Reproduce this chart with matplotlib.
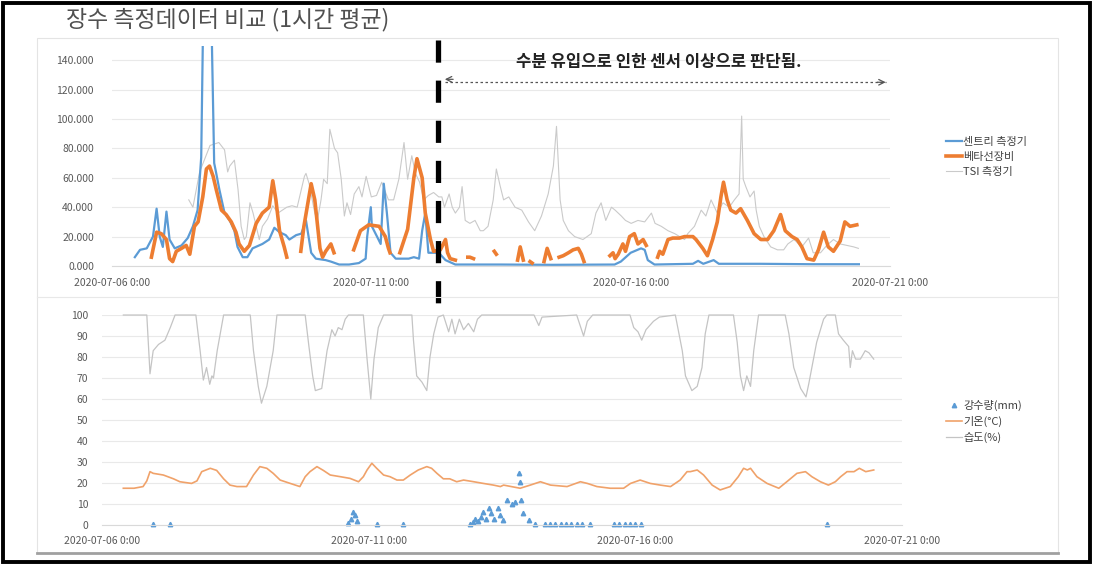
import numpy as np
import pandas as pd
import matplotlib
matplotlib.use('Agg')
import matplotlib.pyplot as plt
from matplotlib.ticker import FixedLocator, FuncFormatter
from matplotlib.transforms import blended_transform_factory
from matplotlib.lines import Line2D
from matplotlib.patches import Rectangle

plt.rcParams['font.family'] = ['Noto Sans CJK KR', 'DejaVu Sans']

START = pd.Timestamp('2020-07-06 00:00')
END = pd.Timestamp('2020-07-21 00:00')
x_ticks = ['2020-07-06', '2020-07-11', '2020-07-16', '2020-07-21']
sensor_issue_start = pd.Timestamp('2020-07-12 07:00')

title = '장수 측정데이터 비교 (1시간 평균)'
note = '수분 유입으로 인한 센서 이상으로 판단됨.'
top_labels = ['센트리 측정기', '베타선장비', 'TSI 측정기']
bottom_labels = ['강수량(mm)', '기온(°C)', '습도(%)']

# all times are days after 2020-07-06 0:00
sentry_days = [0.44, 0.54, 0.67, 0.79, 0.86, 0.92, 0.98, 1.05, 1.11, 1.21, 1.34, 1.46, 1.56, 1.65,
               1.72, 1.77, 1.84, 1.90, 1.97, 2.01, 2.07, 2.17, 2.27, 2.36, 2.42, 2.52, 2.61, 2.71,
               2.90, 3.03, 3.13, 3.23, 3.35, 3.42, 3.55, 3.65, 3.74, 3.84, 3.93, 4.12, 4.22, 4.38,
               4.57, 4.76, 4.89, 4.92, 4.99, 5.01, 5.11, 5.18, 5.24, 5.30, 5.37, 5.47, 5.72, 5.82,
               5.92, 5.98, 6.04, 6.10, 6.30, 6.43, 6.62, 7.50, 8.50, 9.69, 9.81, 10.00, 10.20,
               10.27, 10.33, 10.46, 11.20, 11.30, 11.40, 11.60, 11.70, 12.50, 13.50, 14.40]
sentry = [6, 11, 12, 20, 39, 20, 13, 37, 18, 12, 14, 19, 27, 38,
          74, 200, 170, 200, 70, 63, 52, 36, 31, 24, 13, 6, 6, 12,
          15, 18, 26, 23, 21, 18, 21, 22, 31, 9, 5, 4, 3, 1,
          1, 2, 5, 20, 40, 27, 20, 15, 56, 36, 9, 5, 5, 6,
          5, 24, 36, 9, 9, 4, 1, 1, 0.8, 1, 3, 9, 12,
          11, 4, 1, 1.5, 3.5, 1.5, 4, 1.5, 1.5, 1.2, 1.2]

nan = np.nan
beta_days = [0.76, 0.86, 0.95, 1.05, 1.11, 1.17, 1.24, 1.34, 1.43, 1.50, 1.59, 1.66, 1.75, 1.82,
             1.88, 1.95, 2.01, 2.11, 2.20, 2.30, 2.39, 2.45, 2.55, 2.65, 2.78, 2.90, 3.03, 3.10,
             3.16, 3.23, 3.32, 3.37, 3.50, 3.64, 3.70, 3.84, 3.91, 4.01, 4.06, 4.12, 4.22, 4.28,
             4.45, 4.66, 4.79, 4.95, 5.15, 5.27, 5.33, 5.36, 5.45, 5.55, 5.70, 5.82, 5.88, 5.98,
             6.04, 6.14, 6.20, 6.33, 6.43, 6.47, 6.52, 6.62, 6.75, 6.86, 6.90, 6.97, 7.20, 7.37,
             7.41, 7.60, 7.82, 7.87, 7.93, 8.00, 8.06, 8.10, 8.20, 8.33, 8.39, 8.46, 8.55, 8.62,
             8.70, 8.80, 8.89, 8.99, 9.05, 9.10, 9.40, 9.60, 9.66, 9.70, 9.76, 9.85, 9.90, 9.98,
             10.07, 10.14, 10.24, 10.30, 10.40, 10.52, 10.56, 10.62, 10.72, 10.81, 10.94, 11.04,
             11.20, 11.26, 11.39, 11.48, 11.58, 11.67, 11.74, 11.79, 11.86, 11.93, 12.03, 12.12,
             12.25, 12.38, 12.51, 12.64, 12.76, 12.89, 12.98, 13.11, 13.21, 13.30, 13.40, 13.53,
             13.62, 13.72, 13.81, 13.91, 14.04, 14.13, 14.23, 14.36]
beta = [6, 23, 22, 18, 5, 3, 10, 12, 14, 8, 27, 30, 47, 66,
        68, 61, 52, 38, 35, 30, 23, 15, 10, 14, 29, 36, 40, 58,
        45, 24, 13, 6, nan, 10, 27, 56, 45, 12, 6, 10, 15, 9,
        nan, 11, 24, 28, 27, 20, 12, 9, nan, 9, 25, 60, 73, 60,
        36, 18, 10, 11, 18, 9, 5, 4, nan, 6, 6, 5, nan, 10,
        8, nan, 4, 13, 4, nan, 3, 2, nan, 3, 12, 5, nan, 6,
        7, 9, 11, 12, 8, 3, nan, 7, 9, 5, 8, 15, 10, 20,
        22, 15, 18, 14, nan, 6, 10, 8, 18, 19, 19, 20,
        20, 18, 12, 7, 18, 30, 47, 57, 45, 38, 36, 39,
        31, 22, 18, 18, 24, 35, 24, 20, 18, 13, 5, 4,
        11, 23, 13, 10, 17, 30, 27, 28]

tsi_days = [1.48, 1.56, 1.69, 1.89, 2.06, 2.17, 2.23, 2.27, 2.36, 2.43, 2.49, 2.55, 2.59, 2.66,
            2.72, 2.84, 2.90, 3.00, 3.10, 3.20, 3.37, 3.47, 3.57, 3.71, 3.74, 3.80, 3.91, 3.96,
            4.03, 4.08, 4.15, 4.20, 4.29, 4.35, 4.42, 4.48, 4.53, 4.60, 4.67, 4.76, 4.82, 4.90,
            5.00, 5.10, 5.20, 5.33, 5.43, 5.53, 5.63, 5.70, 5.78, 5.85, 5.93, 6.01, 6.10, 6.20,
            6.30, 6.36, 6.41, 6.50, 6.56, 6.62, 6.70, 6.75, 6.81, 6.90, 7.00, 7.10, 7.16, 7.25,
            7.35, 7.41, 7.48, 7.55, 7.65, 7.77, 7.90, 8.03, 8.15, 8.28, 8.41, 8.51, 8.57, 8.60,
            8.64, 8.70, 8.80, 8.92, 9.08, 9.24, 9.33, 9.43, 9.52, 9.63, 9.70, 9.82, 9.90, 10.01,
            10.14, 10.27, 10.40, 10.47, 10.59, 10.72, 10.85, 11.04, 11.10, 11.23, 11.36, 11.45,
            11.55, 11.67, 11.78, 11.90, 12.00, 12.09, 12.14, 12.17, 12.22, 12.30, 12.38, 12.42,
            12.48, 12.57, 12.70, 12.83, 12.95, 13.03, 13.15, 13.30, 13.43, 13.52, 13.66, 13.78,
            13.91, 14.04, 14.17, 14.30, 14.39]
tsi = [45, 40, 64, 82, 84, 79, 64, 68, 72, 52, 27, 18, 20, 43,
       36, 18, 27, 32, 41, 36, 40, 41, 40, 61, 63, 56, 36, 31,
       45, 59, 56, 93, 80, 77, 59, 34, 43, 35, 49, 54, 47, 61,
       47, 48, 57, 45, 45, 59, 84, 59, 75, 63, 57, 45, 48, 50,
       47, 47, 40, 49, 40, 36, 40, 54, 31, 29, 31, 24, 24, 27,
       45, 66, 55, 45, 47, 40, 38, 30, 24, 34, 49, 68, 95, 74,
       45, 31, 24, 20, 18, 22, 36, 43, 31, 40, 38, 34, 31, 29,
       31, 30, 36, 29, 27, 24, 22, 18, 22, 27, 38, 34,
       45, 36, 43, 40, 45, 49, 102, 59, 54, 47, 51, 38,
       27, 20, 13, 11, 11, 15, 18, 13, 19, 9, 9, 14,
       18, 15, 14, 13, 12]

rain_days = [0.96, 1.28, 4.62, 4.66, 4.70, 4.74, 4.78, 5.15, 5.65, 6.90, 6.95, 7.00, 7.05, 7.10,
             7.15, 7.20, 7.25, 7.30, 7.35, 7.42, 7.47, 7.52, 7.60, 7.68, 7.75, 7.81, 7.83, 7.86,
             7.90, 8.00, 8.12, 8.30, 8.40, 8.50, 8.60, 8.70, 8.80, 8.90, 9.00, 9.15, 9.60, 9.70,
             9.80, 9.90, 10.00, 10.10, 13.60]
rain = [0.3, 0.3, 1, 3, 6, 5, 2, 0.3, 0.3, 0.5, 1.5, 3, 2, 4,
        6, 3, 8, 5.5, 3, 8, 5, 2.4, 12, 10, 11, 25, 20.6, 12,
        5.5, 2.4, 0.3, 0.3, 0.3, 0.3, 0.3, 0.3, 0.3, 0.3, 0.3, 0.3, 0.3, 0.3,
        0.3, 0.3, 0.3, 0.3, 0.5]

temp_days = [0.40, 0.60, 0.77, 0.84, 0.90, 0.96, 1.15, 1.34, 1.46, 1.68, 1.78, 1.87, 2.03, 2.15,
             2.28, 2.40, 2.53, 2.71, 2.84, 2.96, 3.09, 3.21, 3.34, 3.53, 3.71, 3.81, 3.90, 4.03,
             4.15, 4.28, 4.47, 4.65, 4.81, 4.90, 4.97, 5.06, 5.15, 5.28, 5.40, 5.53, 5.65, 5.78,
             5.93, 6.09, 6.18, 6.28, 6.40, 6.52, 6.65, 6.78, 6.97, 7.15, 7.34, 7.47, 7.53, 7.84,
             8.03, 8.22, 8.41, 8.72, 8.97, 9.10, 9.28, 9.53, 9.78, 9.91, 10.09, 10.28, 10.47,
             10.66, 10.84, 10.97, 11.03, 11.16, 11.28, 11.44, 11.59, 11.78, 11.93, 12.03, 12.10,
             12.16, 12.28, 12.47, 12.69, 12.84, 13.03, 13.19, 13.31, 13.47, 13.62, 13.75, 13.85,
             13.97, 14.10, 14.20, 14.32, 14.47]
temp = [17.5, 17.5, 18.3, 21, 25.4, 24.6, 23.8, 22, 20.6, 19.8, 21, 25.4, 27, 26,
        22, 19, 18.3, 18.3, 23.8, 27.8, 27, 24.6, 21.4, 19.8, 18.3, 23, 25.4, 27.8,
        26, 23.8, 23, 22.2, 20.6, 23, 26.2, 29.4, 27, 23.8, 23, 21.4, 21.4, 23.8,
        26.2, 27.8, 27, 24.6, 22, 22, 20.6, 21.4, 20.6, 19.8, 19, 18.3, 19, 17.5,
        19, 20.6, 19, 18.3, 20.6, 19.8, 18.3, 17.5, 17.5, 19.8, 21.4, 19.8, 19,
        18.3, 21.4, 25.4, 25.4, 26.2, 23.8, 19, 16.7, 18.3, 23, 27, 26.2,
        27, 23, 19.8, 17.5, 20.6, 24.6, 25.4, 23, 20.6, 19, 20.6, 23,
        25.4, 25.4, 27, 25.4, 26.2]

hum_days = [0.40, 0.84, 0.90, 0.96, 1.06, 1.18, 1.28, 1.37, 1.76, 1.84, 1.90, 1.96, 2.02, 2.06,
            2.09, 2.16, 2.28, 2.78, 2.84, 2.93, 2.99, 3.09, 3.21, 3.28, 3.81, 3.88, 3.95, 4.00,
            4.12, 4.22, 4.31, 4.37, 4.43, 4.50, 4.56, 4.62, 4.90, 4.97, 5.04, 5.10, 5.18, 5.28,
            5.81, 5.84, 5.90, 6.00, 6.09, 6.15, 6.22, 6.30, 6.40, 6.50, 6.56, 6.62, 6.70, 6.78,
            6.87, 6.97, 7.04, 7.12, 8.10, 8.19, 8.25, 8.90, 9.03, 9.10, 9.20, 9.90, 9.97, 10.05,
            10.12, 10.20, 10.34, 10.45, 10.75, 10.88, 10.94, 11.06, 11.16, 11.25, 11.31, 11.38,
            11.84, 11.91, 11.97, 12.03, 12.09, 12.16, 12.22, 12.31, 12.81, 12.88, 12.97, 13.10,
            13.20, 13.25, 13.31, 13.40, 13.53, 13.59, 13.75, 13.81, 13.90, 14.00, 14.03, 14.07,
            14.13, 14.22, 14.31, 14.38, 14.47]
hum = [100, 100, 72, 83, 86, 88, 94, 100, 100, 83, 69, 75, 67, 71,
       70, 83, 100, 100, 83, 66, 58, 66, 83, 100, 100, 85, 71, 64,
       65, 83, 93, 90, 94, 93, 98, 100, 100, 79, 60, 79, 94, 100,
       100, 88, 71, 68, 64, 80, 91, 99, 100, 92, 98, 91, 98, 93,
       96, 92, 98, 100, 100, 95, 99, 100, 90, 97, 100, 100, 94, 92,
       88, 93, 97, 99, 100, 83, 71, 64, 66, 75, 91, 100,
       100, 87, 71, 64, 71, 66, 83, 100, 100, 91, 75, 65,
       61, 67, 75, 87, 98, 100, 100, 91, 88, 85, 75, 83,
       79, 79, 83, 82, 79]


def to_time(days):
    return START + pd.to_timedelta(np.asarray(days, dtype=float), unit='D')


BLUE = '#5B9BD5'
ORANGE = '#ED7D31'
GRAY_TXT = '#595959'

fig = plt.figure(figsize=(10.96, 5.65), dpi=100)

# outer frame and chart areas
fig.patches.append(Rectangle((37 / 1096, 1 - 553 / 565), 1021 / 1096, 515 / 565,
                             transform=fig.transFigure, fill=False, ec='#e4e4e4', lw=0.8))
fig.add_artist(Line2D([37 / 1096, 1058 / 1096], [1 - 297 / 565] * 2,
                      transform=fig.transFigure, color='#e8e8e8', lw=0.8))
fig.add_artist(Line2D([37 / 1096, 1058 / 1096], [1 - 553 / 565] * 2,
                      transform=fig.transFigure, color='#a0a0a0', lw=2))
fig.patches.append(Rectangle((3 / 1096, 1 - 562 / 565), 1087 / 1096, 559 / 565,
                             transform=fig.transFigure, fill=False, ec='black', lw=2.8))

ax1 = fig.add_axes([112 / 1096, 1 - 266 / 565, 778 / 1096, 220.5 / 565])
ax2 = fig.add_axes([102 / 1096, 1 - 525 / 565, 800 / 1096, 210 / 565])


def date_fmt(v, pos):
    d = pd.Timestamp(matplotlib.dates.num2date(v)).tz_localize(None)
    return f'{d:%Y-%m-%d} {d.hour}:{d:%M}'


for ax in (ax1, ax2):
    ax.set_xlim(START, END)
    ax.xaxis.set_major_locator(FixedLocator(matplotlib.dates.date2num(pd.to_datetime(x_ticks))))
    ax.xaxis.set_major_formatter(FuncFormatter(date_fmt))
    for s in ('top', 'right', 'left'):
        ax.spines[s].set_visible(False)
    ax.spines['bottom'].set_color('#d9d9d9')
    ax.tick_params(length=0, labelsize=7.5, colors=GRAY_TXT)
    ax.grid(axis='y', color='#e9e9e9', lw=0.8)
    ax.set_axisbelow(True)

# top panel
ax1.plot(to_time(tsi_days), tsi, color='#cacaca', lw=0.8, label=top_labels[2])
ax1.plot(to_time(sentry_days), sentry, color=BLUE, lw=1.6, label=top_labels[0])
ax1.plot(to_time(beta_days), beta, color=ORANGE, lw=2.6, label=top_labels[1])
ax1.set_ylim(0, 150)
ax1.set_yticks(range(0, 141, 20))
ax1.yaxis.set_major_formatter(FuncFormatter(lambda v, p: f'{v:.3f}'))
ax1.tick_params(axis='y', pad=13)
ax1.tick_params(axis='x', pad=9)

# bottom panel
ax2.plot(to_time(hum_days), hum, color='#c4c4c4', lw=0.9, label=bottom_labels[2], clip_on=False)
ax2.plot(to_time(temp_days), temp, color='#F0A26A', lw=1.2, label=bottom_labels[1], clip_on=False)
ax2.plot(to_time(rain_days), rain, ls='none', marker='^', ms=3.2, color=BLUE,
         label=bottom_labels[0], clip_on=False)
ax2.set_ylim(0, 100)
ax2.set_yticks(range(0, 101, 10))
ax2.tick_params(axis='y', pad=10)
ax2.tick_params(axis='x', pad=8)

# legends
h1 = {l.get_label(): l for l in ax1.get_lines()}
fig.legend([h1[k] for k in top_labels], top_labels, loc='upper left',
           bbox_to_anchor=(946 / 1096, 1 - 137 / 565), frameon=False, fontsize=8,
           handlelength=1.4, handletextpad=0.15, labelspacing=0.45, borderpad=0,
           borderaxespad=0, labelcolor='#404040')
h2 = {l.get_label(): l for l in ax2.get_lines()}
fig.legend([h2[k] for k in bottom_labels], bottom_labels, loc='upper left',
           bbox_to_anchor=(946 / 1096, 1 - 400 / 565), frameon=False, fontsize=8,
           handlelength=1.4, handletextpad=0.15, labelspacing=0.45, borderpad=0,
           borderaxespad=0, labelcolor='#404040')

# title
fig.text(66 / 1096, 1 - 20 / 565, title, fontsize=16.5, color='#505050', va='center', ha='left')

# sensor issue marker across both panels
tr = blended_transform_factory(ax1.transData, fig.transFigure)
xs = matplotlib.dates.date2num(sensor_issue_start)
ax1.plot([xs, xs], [1 - 40 / 565, 1 - 518 / 565], transform=tr, color='black', lw=3.8,
         dashes=(4.2, 3.4), clip_on=False, zorder=10)

arrow_end = pd.Timestamp('2020-07-20 22:00')
arrow_y = 125
ax1.plot([sensor_issue_start + pd.Timedelta(hours=3), arrow_end], [arrow_y, arrow_y],
         color='#555555', lw=0.9, ls=(0, (2, 2)), clip_on=False)
ax1.annotate('', xy=(arrow_end, arrow_y), xytext=(-6, 0), textcoords='offset points',
             arrowprops=dict(arrowstyle='->', color='#555555', lw=0.9, shrinkA=0, shrinkB=0))
ax1.annotate('', xy=(sensor_issue_start + pd.Timedelta(hours=3), arrow_y + 2), xytext=(6, 0),
             textcoords='offset points',
             arrowprops=dict(arrowstyle='->', color='#555555', lw=0.9, shrinkA=0, shrinkB=0))
ax1.text(pd.Timestamp('2020-07-16 13:00'), 139, note, fontsize=12, fontweight='bold',
         color='#222222', ha='center', va='center', clip_on=False)

fig.savefig('out.png', dpi=100)
